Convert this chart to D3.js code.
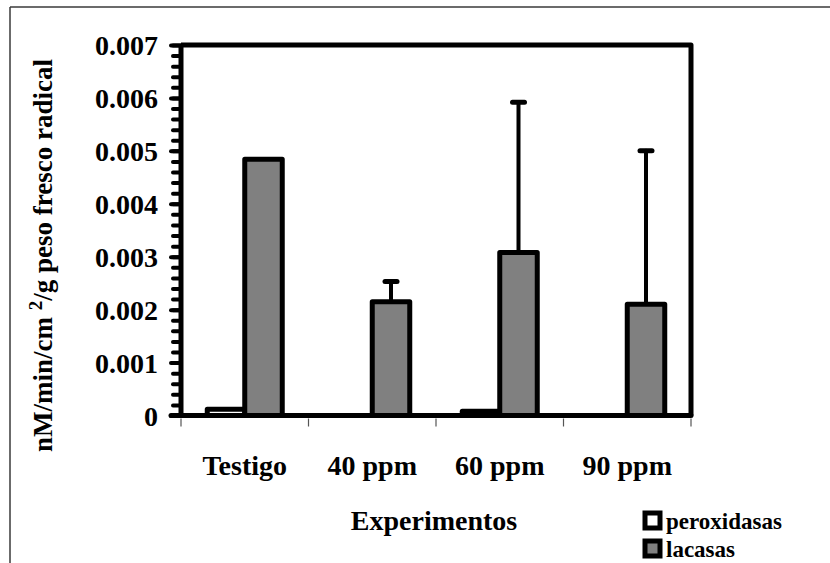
<!DOCTYPE html>
<html>
<head>
<meta charset="utf-8">
<script src="https://cdn.jsdelivr.net/npm/d3@7"></script>
<style>
  html, body { margin: 0; padding: 0; background: #fff; }
  svg { display: block; }
</style>
</head>
<body>
<svg id="chart" width="830" height="563"></svg>
<script>
// ---- data ----
const categories = ["Testigo", "40 ppm", "60 ppm", "90 ppm"];
const seriesNames = ["peroxidasas", "lacasas"];
const peroxidasas = [0.00012, 0, 0.00008, 0];
const lacasas = [0.00484, 0.00215, 0.00308, 0.0021];
const lacasasErr = [0, 0.00038, 0.00284, 0.0029];
const yTicks = [0, 0.001, 0.002, 0.003, 0.004, 0.005, 0.006, 0.007];
const yMinorTicks = d3.range(0, 36).map(i => i * 0.0002);
const xTitle = "Experimentos";

const seriesColors = { peroxidasas: "#ffffff", lacasas: "#808080" };
const FONT = "Liberation Serif";

const svg = d3.select("#chart");

// outer frame (top and left visible)
svg.append("line").attr("x1", 10).attr("x2", 830).attr("y1", 7).attr("y2", 7)
  .attr("stroke", "#3a3a3a").attr("stroke-width", 1.5);
svg.append("line").attr("x1", 10).attr("x2", 10).attr("y1", 7).attr("y2", 563)
  .attr("stroke", "#3a3a3a").attr("stroke-width", 1.5);

const plot = { left: 181, right: 691, top: 45, bottom: 415.5 };

const x = d3.scaleBand().domain(categories).range([plot.left, plot.right]).padding(0);
const xs = d3.scaleBand().domain(seriesNames).range([0, x.bandwidth()]).paddingInner(0).paddingOuter(0.7);
const y = d3.scaleLinear().domain([0, 0.007]).range([plot.bottom, plot.top]);

// category boundary ticks (thin, below axis)
const bounds = categories.map(c => x(c)).concat([x(categories[categories.length - 1]) + x.bandwidth()]);
svg.append("g").selectAll("line").data(bounds).join("line")
  .attr("x1", d => d).attr("x2", d => d)
  .attr("y1", plot.bottom + 3).attr("y2", plot.bottom + 11)
  .attr("stroke", "#555").attr("stroke-width", 1.2);

// bars
const rows = categories.map((c, i) => ({ cat: c, peroxidasas: peroxidasas[i], lacasas: lacasas[i], err: lacasasErr[i] }));
const gBars = svg.append("g");
rows.forEach(r => {
  seriesNames.forEach(s => {
    const v = r[s];
    if (v <= 0) return;
    gBars.append("rect")
      .attr("x", x(r.cat) + xs(s))
      .attr("y", y(v))
      .attr("width", xs.bandwidth())
      .attr("height", y(0) - y(v))
      .attr("fill", seriesColors[s])
      .attr("stroke", "#000")
      .attr("stroke-width", 5)
      .attr("stroke-linejoin", "round");
  });
});

// error bars (plus only) on lacasas
const gErr = svg.append("g").attr("stroke", "#000").attr("stroke-linecap", "round");
rows.forEach(r => {
  if (r.err <= 0) return;
  const cx = x(r.cat) + xs("lacasas") + xs.bandwidth() / 2;
  gErr.append("line").attr("x1", cx).attr("x2", cx)
    .attr("y1", y(r.lacasas) - 2).attr("y2", y(r.lacasas + r.err))
    .attr("stroke-width", 4);
  gErr.append("line").attr("x1", cx - 6).attr("x2", cx + 6)
    .attr("y1", y(r.lacasas + r.err)).attr("y2", y(r.lacasas + r.err))
    .attr("stroke-width", 5);
});

// plot box: top and right
svg.append("path")
  .attr("d", `M${plot.left},${plot.top}H${plot.right}V${plot.bottom}`)
  .attr("fill", "none").attr("stroke", "#000").attr("stroke-width", 5)
  .attr("stroke-linejoin", "round");

// y axis minor ticks
const yMinor = svg.append("g").attr("transform", `translate(${plot.left},0)`)
  .call(d3.axisLeft(y).tickValues(yMinorTicks).tickSize(8).tickFormat(""));
yMinor.select(".domain").remove();
yMinor.selectAll(".tick line").attr("stroke", "#000").attr("stroke-width", 4).attr("stroke-linecap", "round");

// y axis major ticks + labels
const yAxis = svg.append("g").attr("transform", `translate(${plot.left},0)`)
  .call(d3.axisLeft(y).tickValues(yTicks).tickSize(10).tickPadding(13).tickFormat(d => d === 0 ? "0" : d3.format(".3f")(d)));
yAxis.attr("font-family", FONT).attr("font-size", 28).attr("font-weight", "bold");
yAxis.select(".domain").attr("stroke", "#000").attr("stroke-width", 5)
  .attr("d", `M0,${plot.top}V${plot.bottom}`);
yAxis.selectAll(".tick line").attr("stroke", "#000").attr("stroke-width", 4).attr("stroke-linecap", "round");
yAxis.selectAll(".tick text").style("font-size", "28px").style("font-family", FONT)
  .style("font-weight", "bold").attr("fill", "#000").attr("dy", "0.34em");

// x axis line
svg.append("line").attr("x1", plot.left - 10).attr("x2", plot.right)
  .attr("y1", plot.bottom).attr("y2", plot.bottom)
  .attr("stroke", "#000").attr("stroke-width", 5).attr("stroke-linecap", "round");

// x axis category labels
const xAxis = svg.append("g").attr("transform", `translate(0,${plot.bottom})`)
  .call(d3.axisBottom(x).tickSize(0).tickPadding(0));
xAxis.attr("font-family", FONT).attr("font-size", 28).attr("font-weight", "bold");
xAxis.select(".domain").remove();
xAxis.selectAll(".tick text").style("font-size", "28px").style("font-family", FONT)
  .style("font-weight", "bold").attr("fill", "#000").attr("dy", null).attr("y", 59);

// x title
svg.append("text").attr("x", 434).attr("y", 530).attr("text-anchor", "middle")
  .style("font-family", FONT).style("font-weight", "bold").style("font-size", "28px").text(xTitle);

// y title (rotated)
const yt = svg.append("text").attr("transform", "translate(52,452) rotate(-90)")
  .style("font-family", FONT).style("font-weight", "bold").style("font-size", "27px");
yt.append("tspan").text("nM/min/cm ");
yt.append("tspan").style("font-size", "19px").attr("dy", -10).text(" 2");
yt.append("tspan").attr("dy", 10).text("/g peso fresco radical");

// legend
const legend = svg.append("g");
const legendRows = [
  { name: "peroxidasas", ys: 513 },
  { name: "lacasas", ys: 541 }
];
legendRows.forEach(l => {
  legend.append("rect").attr("x", 645).attr("y", l.ys).attr("width", 15).attr("height", 15)
    .attr("fill", seriesColors[l.name]).attr("stroke", "#000").attr("stroke-width", 5);
  legend.append("text").attr("x", 666).attr("y", l.ys + 16)
    .style("font-family", FONT).style("font-weight", "bold").style("font-size", "23px").text(l.name);
});
</script>
</body>
</html>
